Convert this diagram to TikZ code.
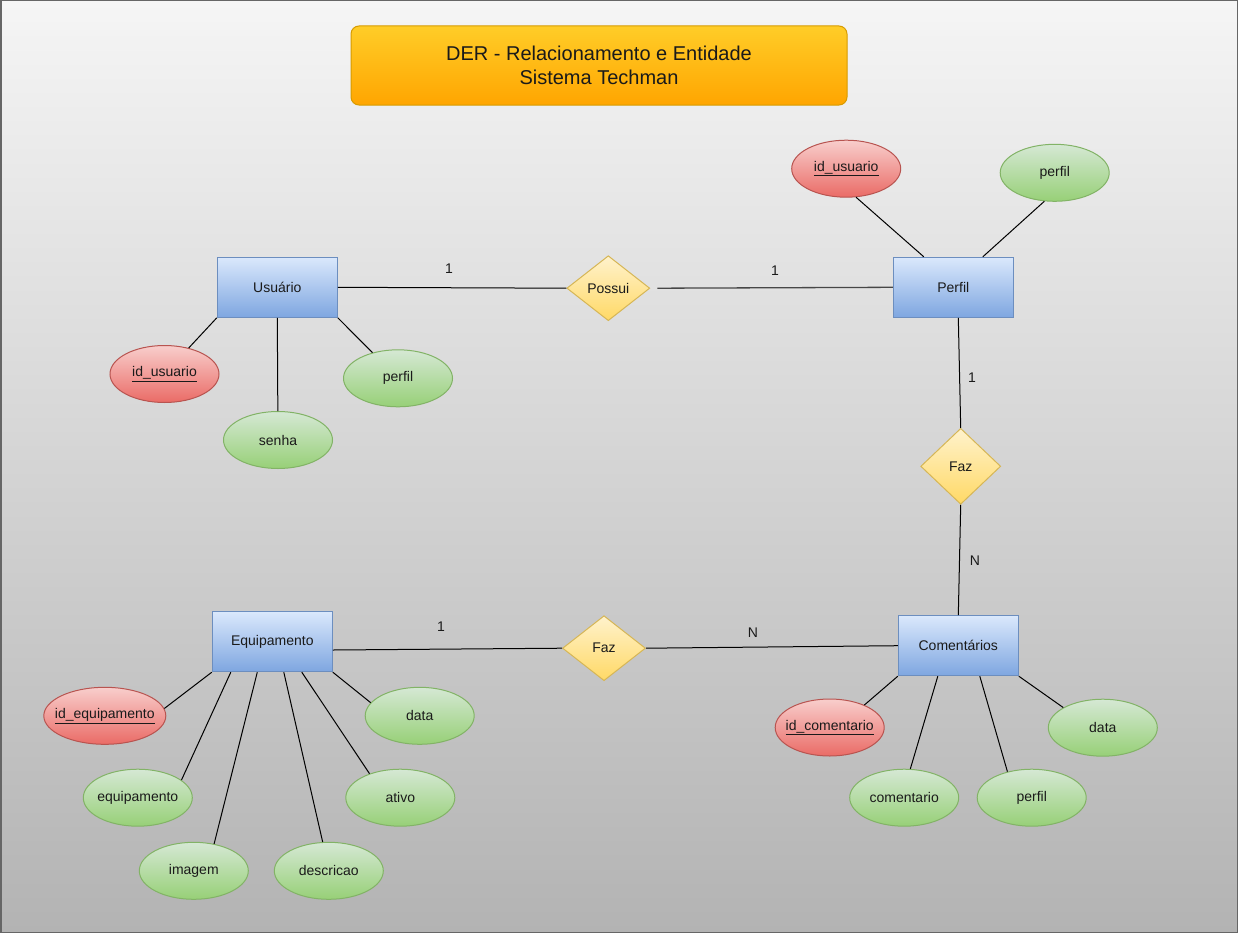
\documentclass[tikz,border=0pt]{standalone}
\usepackage{fontspec}
\setmainfont{Liberation Sans}
\usetikzlibrary{shapes.geometric,calc}
\definecolor{bgT}{HTML}{F5F5F5}
\definecolor{bgB}{HTML}{B3B3B3}
\definecolor{frameC}{HTML}{666666}
\definecolor{titT}{HTML}{FFCD28}
\definecolor{titB}{HTML}{FFA500}
\definecolor{titD}{HTML}{D79B00}
\definecolor{entT}{HTML}{DAE8FC}
\definecolor{entB}{HTML}{7EA6E0}
\definecolor{entD}{HTML}{6C8EBF}
\definecolor{keyT}{HTML}{F8CECC}
\definecolor{keyB}{HTML}{EA6B66}
\definecolor{keyD}{HTML}{B85450}
\definecolor{attT}{HTML}{D5E8D4}
\definecolor{attB}{HTML}{97D077}
\definecolor{attD}{HTML}{82B366}
\definecolor{relT}{HTML}{FFF2CC}
\definecolor{relB}{HTML}{FFD966}
\definecolor{relD}{HTML}{D6B656}
\definecolor{txt}{HTML}{1A1A1A}
\newcommand{\nfont}{\fontsize{14}{16}\selectfont}
\newcommand{\tfont}{\fontsize{20}{24}\selectfont}
\newcommand{\zb}[1]{\makebox[0pt][c]{#1}}
\begin{document}
\begin{tikzpicture}[x=1pt,y=-1pt,
  entity/.style={rectangle, draw=entD, line width=1pt, top color=entT, bottom color=entB,
    minimum width=120, minimum height=60, inner sep=0, font=\nfont, text=txt},
  keyattr/.style={ellipse, draw=keyD, line width=1pt, top color=keyT, bottom color=keyB,
    minimum width=109, minimum height=57, inner sep=0, font=\nfont, text=txt},
  attr/.style={ellipse, draw=attD, line width=1pt, top color=attT, bottom color=attB,
    minimum width=109, minimum height=57, inner sep=0, font=\nfont, text=txt},
  rel/.style={diamond, draw=relD, line width=1pt, top color=relT, bottom color=relB,
    minimum width=83, minimum height=65, inner sep=0, font=\nfont, text=txt},
  conn/.style={draw=black, line width=1pt},
  card/.style={font=\nfont, text=txt, inner sep=0}
]
% background
\useasboundingbox (0,0) rectangle (1238,934);
\path[top color=bgT, bottom color=bgB, draw=frameC, line width=1.5pt] (0.75,0.75) rectangle (1237.25,932.5);

% title
\node[rectangle, rounded corners=8pt, draw=titD, line width=1pt, top color=titT, bottom color=titB,
  minimum width=496, minimum height=79, inner sep=0, align=center, font=\tfont, text=txt]
  (title) at (599,65.5) {DER - Relacionamento e Entidade\\Sistema Techman};

% Usuario
\node[entity] (usu) at (277.3,287.3) {Usuário};
\node[keyattr] (idu) at (164.5,374) {\zb{\underline{id\_usuario}}};
\node[attr] (sen) at (278,440) {\zb{senha}};
\node[attr] (pu) at (398,378.3) {\zb{perfil}};

% Possui
\node[rel] (possui) at (608.3,288.2) {Possui};

% Perfil
\node[entity] (perf) at (953.3,287.3) {Perfil};
\node[keyattr] (idp) at (846.2,168.7) {\zb{\underline{id\_usuario}}};
\node[attr] (pp) at (1054.7,172.8) {\zb{perfil}};

% Faz 1
\node[rel, minimum width=80, minimum height=76] (faz1) at (960.7,466.3) {Faz};

% Comentarios
\node[entity] (com) at (958.3,645.7) {Comentários};
\node[keyattr] (idc) at (829.7,727.5) {\zb{\underline{id\_comentario}}};
\node[attr] (cc) at (904.2,797.7) {\zb{comentario}};
\node[attr] (pc) at (1031.7,797.7) {\zb{perfil}};
\node[attr] (dc) at (1102.8,727.7) {\zb{data}};

% Faz 2
\node[rel] (faz2) at (604,648.2) {Faz};

% Equipamento
\node[entity] (eq) at (272.3,641.7) {Equipamento};
\node[keyattr, minimum width=122] (ide) at (104.8,715.8) {\zb{\underline{id\_equipamento}}};
\node[attr] (equ) at (137.8,797.7) {\zb{equipamento}};
\node[attr] (img) at (193.8,870.8) {\zb{imagem}};
\node[attr] (des) at (328.8,870.8) {\zb{descricao}};
\node[attr] (ati) at (400.3,797.7) {\zb{ativo}};
\node[attr] (dat) at (419.7,715.8) {\zb{data}};

% connector end points
\coordinate (pstart) at ($(possui.east)+(7,0)$);
\coordinate (pf1) at ($(perf.north west)+(31,0)$);
\coordinate (pf2) at ($(perf.north west)+(90,0)$);
\coordinate (pfs) at ($(perf.south)+(5,0)$);
\coordinate (eqr) at ($(eq.east)+(0,8.3)$);
\coordinate (c1) at ($(com.south west)+(40,0)$);
\coordinate (c2) at ($(com.south west)+(82,0)$);
\coordinate (e1) at ($(eq.south west)+(19,0)$);
\coordinate (e2) at ($(eq.south west)+(45.5,0)$);
\coordinate (e3) at ($(eq.south west)+(72,0)$);
\coordinate (e4) at ($(eq.south west)+(90,0)$);

% Usuario attributes
\draw[conn] (usu.south west) -- (idu);
\draw[conn] (usu.south) -- (sen);
\draw[conn] (usu.south east) -- (pu);
% Usuario - Possui - Perfil
\draw[conn] (usu.east) -- (possui.west);
\draw[conn, draw=frameC!70!black, line width=1.3pt] (pstart) -- (perf.west);
% Perfil attributes
\draw[conn] (idp.289) -- (pf1);
\draw[conn] (pp.250) -- (pf2);
% Perfil - Faz - Comentarios
\draw[conn] (pfs) -- (faz1.north);
\draw[conn] (faz1.south) -- (com.north);
% Comentarios attributes
\draw[conn] (com.south west) -- (idc.33);
\draw[conn] (c1) -- (cc.78);
\draw[conn] (c2) -- (pc.133);
\draw[conn] (com.south east) -- (dc.153);
% Equipamento - Faz - Comentarios
\draw[conn] (eqr) -- (faz2.west);
\draw[conn] (faz2.east) -- (com.west);
% Equipamento attributes
\draw[conn] (eq.south west) -- (ide.7);
\draw[conn] (e1) -- (equ.22);
\draw[conn] (e2) -- (img.53);
\draw[conn] (e3) -- (des.102);
\draw[conn] (e4) -- (ati.142);
\draw[conn] (eq.south east) -- (dat.165);

% cardinalities
\node[card] (l1) at (449,269) {1};
\node[card] (l2) at (775,271) {1};
\node[card] (l3) at (972,378) {1};
\node[card] (l4) at (975,561) {N};
\node[card] (l5) at (441,627) {1};
\node[card] (l6) at (753,633) {N};
\end{tikzpicture}
\end{document}
